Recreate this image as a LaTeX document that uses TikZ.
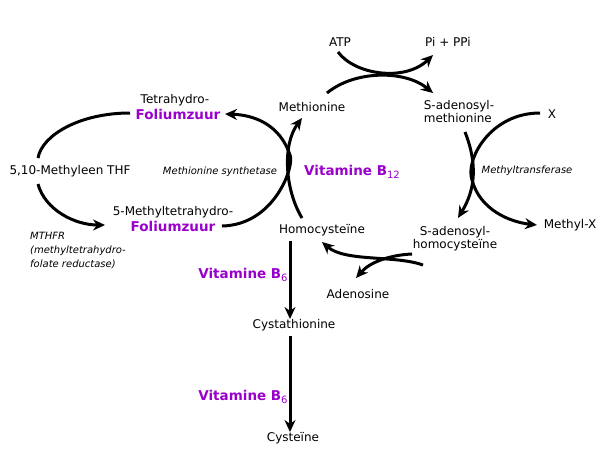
\documentclass[tikz,border=0pt]{standalone}
\usepackage{fontspec}
\setmainfont{DejaVu Sans}
\usetikzlibrary{arrows.meta}
\definecolor{vit}{RGB}{153,0,204}
\newcommand{\mysub}[1]{\raisebox{-0.45ex}{\fontsize{10}{10}\selectfont\mdseries #1}}
\begin{document}
\begin{tikzpicture}[x=1pt,y=-1pt,
  t/.style={font=\fontsize{12}{13}\selectfont,inner sep=0pt},
  it/.style={font=\fontsize{10}{14}\selectfont\itshape,inner sep=0pt},
  v/.style={font=\fontsize{13.5}{15}\selectfont\bfseries,text=vit,inner sep=0pt},
  ar/.style={line width=3pt,-{Stealth[length=12pt,width=11pt]}},
  ln/.style={line width=3pt}]
\useasboundingbox (0,0) rectangle (600,450);
\node[t] (atp) at (340,42) {ATP};
\node[t] (pi) at (448,42) {Pi + PPi};
\node[t] (met) at (312,107) {Methionine};
\node[t,align=left] (sam) at (459,112) {S-adenosyl-\\methionine};
\node[t] (x) at (552,114) {X};
\node[it] (mt) at (527,171) {Methyltransferase};
\node[t] (mx) at (570,225) {Methyl-X};
\node[t,align=center] (sah) at (455,239) {S-adenosyl-\\homocysteïne};
\node[t] (hcy) at (322,230) {Homocysteïne};
\node[t] (ado) at (358,294) {Adenosine};
\node[v] (b12) at (352,172) {Vitamine B\mysub{12}};
\node[v] (b6a) at (243,275) {Vitamine B\mysub{6}};
\node[v] (b6b) at (243,397) {Vitamine B\mysub{6}};
\node[t] (cys) at (294,325) {Cystathionine};
\node[t] (cyt) at (293,438) {Cysteïne};
\node[t] (th) at (175,100) {Tetrahydro-};
\node[v] (thf) at (178,114) {Foliumzuur};
\node[t] (mthf) at (70,171) {5,10-Methyleen THF};
\node[it] (ms) at (220,172) {Methionine synthetase};
\node[t] (m5) at (173,212) {5-Methyltetrahydro-};
\node[v] (m5f) at (173,226) {Foliumzuur};
\node[it,align=left,anchor=west] (mthfr) at (30,251) {MTHFR\\(methyltetrahydro-\\folate reductase)};
% top
\draw[ar] (338,52) .. controls (355,75) and (405,82) .. (433,55);
\draw[ar] (327,93) .. controls (355,70) and (405,70) .. (433,93);
% left crossing
\draw[ar] (222,226) .. controls (275,225) and (295,165) .. (290,155) .. controls (280,125) and (255,115) .. (225,114);
\draw[ar] (302,218) .. controls (285,190) and (282,145) .. (302,118);
% right crossing
\draw[ar] (465,132) .. controls (478,165) and (475,190) .. (458,218);
\draw[ar] (540,113) .. controls (490,113) and (465,160) .. (472,180) .. controls (480,210) and (510,222) .. (537,225);
% bottom
\draw[ar] (423,265) .. controls (395,255) and (345,262) .. (322,242);
\draw[ar] (412,254) .. controls (390,255) and (370,262) .. (356,278);
% folate cycle
\draw[ln] (130,113) .. controls (80,113) and (42,135) .. (38,158);
\draw[ar] (38,184) .. controls (45,210) and (75,225) .. (105,225);
% vertical
\draw[ar] (hcy.south -| 290,0) ++(0,5) -- (cys.north -| 290,0);
\draw[ar] (cys.south -| 290,0) ++(0,5) -- (cyt.north -| 290,0);
\end{tikzpicture}
\end{document}
